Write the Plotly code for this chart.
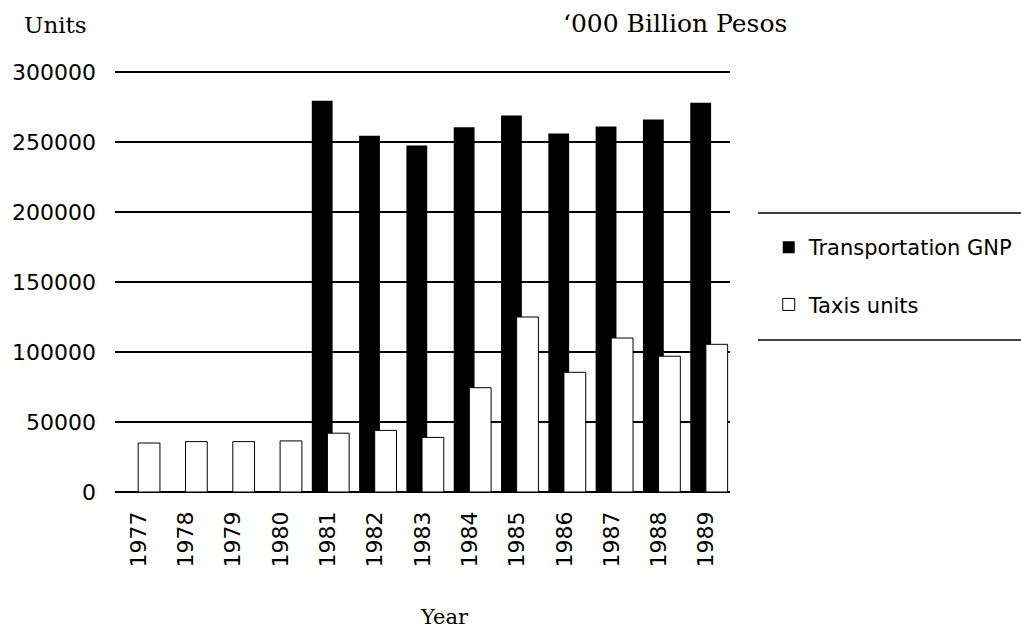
import plotly.graph_objects as go

years = ["1977", "1978", "1979", "1980", "1981", "1982", "1983",
         "1984", "1985", "1986", "1987", "1988", "1989"]
transport_gnp = [None, None, None, None, 279500, 254500, 247500,
                 260500, 269000, 256000, 261000, 266000, 278000]
taxi_units = [35000, 36000, 36000, 36500, 42000, 44000, 39000,
              74500, 125000, 85500, 110000, 97000, 105500]
y_ticks = [0, 50000, 100000, 150000, 200000, 250000, 300000]

SANS = "DejaVu Sans"
SERIF = "DejaVu Serif"

fig = go.Figure()
fig.add_trace(go.Bar(
    x=years, y=transport_gnp, name="Transportation GNP",
    marker=dict(color="black", line=dict(width=0)),
    offset=-0.34, width=0.44, legendgroup="a",
))
fig.add_trace(go.Bar(
    x=years, y=taxi_units, name="Taxis units",
    marker=dict(color="white", line=dict(color="black", width=1)),
    offset=-0.01, width=0.46, legendgroup="b",
))

fig.update_layout(
    width=1021, height=637,
    margin=dict(l=115, r=291, t=70, b=145, autoexpand=False),
    paper_bgcolor="white", plot_bgcolor="white",
    barmode="overlay",
    showlegend=True,
    legend=dict(
        x=1.063, y=0.628, xanchor="left", yanchor="top",
        font=dict(family=SANS, size=21, color="black"),
        traceorder="grouped", tracegroupgap=27,
        bgcolor="rgba(0,0,0,0)",
    ),
    xaxis=dict(
        type="category", range=[-0.5, 12.5],
        tickangle=-90, showgrid=False, showline=False, ticks="",
        tickfont=dict(family=SANS, size=22, color="black"),
        ticklabelstandoff=14,
    ),
    yaxis=dict(
        range=[0, 301429], tickvals=y_ticks,
        ticktext=[str(v) for v in y_ticks],
        showgrid=True, gridcolor="black", gridwidth=1.5,
        zeroline=True, zerolinecolor="black", zerolinewidth=1.5,
        showline=False, ticks="",
        tickfont=dict(family=SANS, size=22, color="black"),
        ticklabelstandoff=18,
    ),
    shapes=[
        dict(type="line", xref="paper", yref="paper",
             x0=1.0455, x1=1.48, y0=0.661, y1=0.661,
             line=dict(color="black", width=1.5)),
        dict(type="line", xref="paper", yref="paper",
             x0=1.0455, x1=1.48, y0=0.360, y1=0.360,
             line=dict(color="black", width=1.5)),
    ],
    annotations=[
        dict(text="Units", xref="paper", yref="paper", x=-0.151, y=1.107,
             xanchor="left", yanchor="middle", showarrow=False,
             font=dict(family=SERIF, size=23, color="black")),
        dict(text="‘000 Billion Pesos", xref="paper", yref="paper",
             x=0.911, y=1.111, xanchor="center", yanchor="middle",
             showarrow=False,
             font=dict(family=SERIF, size=25, color="black")),
        dict(text="Year", xref="paper", yref="paper", x=0.535, y=-0.296,
             xanchor="center", yanchor="middle", showarrow=False,
             font=dict(family=SERIF, size=21, color="black")),
    ],
)

fig.write_html("out.html")
